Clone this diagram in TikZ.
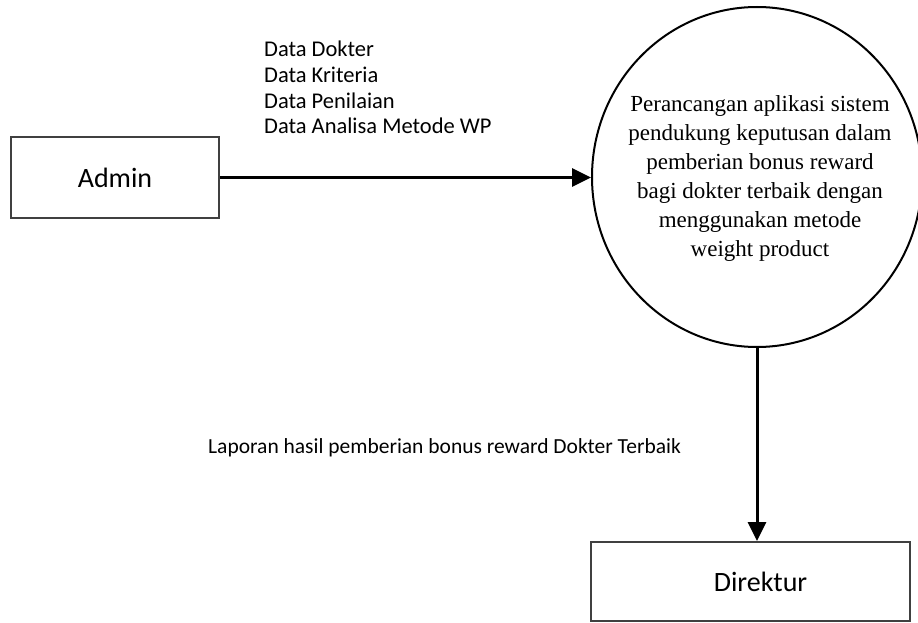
\documentclass[tikz,border=0pt]{standalone}
\usepackage{fontspec}
\setmainfont{Liberation Serif}
\newfontfamily\calibri{Carlito}
\usetikzlibrary{arrows.meta,shapes.geometric}

\begin{document}
\begin{tikzpicture}[x=1pt,y=-1pt,
  entity/.style={draw=black!75, line width=2pt, inner sep=0pt,
    font=\calibri\fontsize{28}{34}\selectfont},
  proc/.style={draw, ellipse, line width=2pt, minimum width=330pt,
    minimum height=340pt, inner sep=0pt},
  flow/.style={line width=3pt, -{Triangle[length=19pt,width=18pt]}},
  lbl/.style={font=\calibri\fontsize{22.5}{25.7}\selectfont, align=left, inner sep=0pt}]
\useasboundingbox (0,0) rectangle (918,623);

% external entities
\node[entity, minimum width=208pt, minimum height=81pt] (admin) at (115,177.5) {Admin};
\node[entity, minimum width=319pt, minimum height=79pt] (dir) at (750.5,581.5) {\hspace*{20pt}Direktur};

% process
\node[proc] (p) at (757,177) {};
\node[align=center, inner sep=0pt, font=\fontsize{23}{29}\selectfont] (ptext) at (760,179)
  {Perancangan aplikasi sistem\\pendukung keputusan dalam\\pemberian bonus reward\\bagi dokter terbaik dengan\\menggunakan metode\\weight product};

% data flows
\draw[flow] (admin.east) -- (admin.east -| p.west);
\draw[flow] (p.south) -- (p.south |- dir.north);

% flow labels
\node[lbl, anchor=north west] (inlbl) at (264,41)
  {Data Dokter\\Data Kriteria\\Data Penilaian\\Data Analisa Metode WP};
\node[lbl, anchor=base west, font=\calibri\fontsize{21.5}{25.7}\selectfont] (outlbl) at (208,453)
  {Laporan hasil pemberian bonus reward Dokter Terbaik};
\end{tikzpicture}
\end{document}
